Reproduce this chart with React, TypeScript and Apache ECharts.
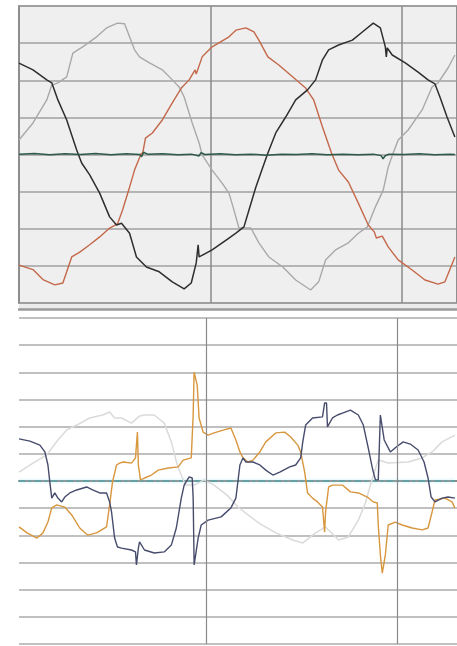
import React, { useEffect, useRef } from "react";
import * as echarts from "echarts";

// time in ms (10 ms per division), values in units (100 per division)
const topTimeMax = 22.86;
const botTimeMax = 22.86;
const bottomDivisionLines = [9.78, 19.72];

const blackTop: [number, number][] = [
  [0, 246], [0.73, 228], [1.45, 201], [1.71, 193], [2.03, 147], [2.49, 93], [3.01, 12], [3.27, -23],
  [3.69, -55], [4.21, -104], [4.73, -168], [5.09, -190], [5.35, -185], [5.77, -212], [6.13, -276],
  [6.65, -303], [7.32, -316], [8.0, -343], [8.62, -362], [8.99, -346], [9.25, -292], [9.35, -243],
  [9.4, -276], [10.08, -257], [10.96, -225], [11.32, -212], [11.74, -195], [12.0, -150], [12.36, -88],
  [12.73, -34], [12.99, 4], [13.4, 58], [13.92, 101], [14.44, 147], [15.06, 174], [15.48, 201],
  [15.84, 255], [16.16, 282], [16.68, 295], [17.4, 308], [17.92, 330], [18.49, 354], [18.86, 341],
  [19.12, 290], [19.17, 263], [19.22, 287], [19.48, 268], [20.16, 247], [20.83, 222], [21.35, 201],
  [21.71, 190], [21.97, 155], [22.34, 101], [22.75, 47],
];

const orangeTop: [number, number][] = [
  [0, -298], [0.73, -310], [1.25, -337], [1.87, -351], [2.29, -346], [2.75, -276], [3.17, -263],
  [3.69, -243], [4.21, -222], [4.73, -198], [5.14, -187], [5.4, -150], [5.77, -88], [6.03, -42],
  [6.39, 4], [6.44, -1], [6.6, 44], [6.96, 58], [7.48, 93], [8.0, 139], [8.47, 179], [8.88, 201],
  [9.19, 228], [9.25, 217], [9.56, 263], [10.08, 290], [10.96, 317], [11.32, 335], [11.84, 341],
  [12.26, 330], [12.52, 308], [12.99, 263], [13.56, 241], [14.29, 209], [14.96, 179], [15.38, 147],
  [15.84, 74], [16.31, 4], [16.68, -42], [17.19, -74], [17.71, -131], [18.23, -190], [18.55, -209],
  [18.65, -225], [18.96, -220], [19.27, -249], [19.79, -284], [20.52, -311], [21.19, -338],
  [21.87, -349], [22.23, -343], [22.75, -276],
];

const grayTop: [number, number][] = [
  [0, 39], [0.73, 85], [1.45, 147], [1.71, 187], [2.03, 193], [2.49, 209], [2.81, 273], [3.32, 290],
  [4.05, 317], [4.57, 341], [5.14, 354], [5.51, 352], [5.77, 317], [6.03, 282], [6.29, 263],
  [6.81, 247], [7.48, 228], [8.0, 201], [8.36, 182], [8.62, 155], [9.04, 85], [9.4, 31], [9.56, -1],
  [10.08, -42], [10.6, -77], [10.96, -104], [11.17, -141], [11.48, -198], [12.1, -198], [12.52, -238],
  [13.04, -276], [13.77, -303], [14.44, -338], [15.22, -365], [15.64, -343], [16.0, -284],
  [16.52, -257], [17.19, -238], [17.71, -212], [18.18, -195], [18.6, -141], [19.01, -96],
  [19.27, -34], [19.53, 4], [19.79, 39], [20.31, 66], [21.04, 120], [21.56, 182], [21.87, 193],
  [22.39, 233], [22.75, 268],
];

const greenTop: [number, number][] = [
  [0, 1], [0.8, 3], [1.6, -1], [2.4, 2], [3.2, 0], [4.0, 3], [4.8, -1], [5.6, 2], [6.3, 0],
  [6.4, -6], [6.5, 6], [6.7, 1], [7.5, 2], [8.3, -1], [9.0, 1], [9.4, -4], [9.5, 5], [9.7, 0],
  [10.5, 2], [11.3, -1], [12.1, 1], [12.9, -2], [13.7, 1], [14.5, 0], [15.3, 2], [16.1, -1],
  [16.9, 1], [17.7, -1], [18.5, 1], [18.9, -3], [19.0, -12], [19.1, -4], [19.3, 1], [20.1, 0],
  [20.9, 2], [21.7, -1], [22.5, 1], [22.75, 0],
];

const navyBottom: [number, number][] = [
  [0, 155], [0.57, 147], [1.09, 132], [1.35, 107], [1.51, 59], [1.61, -4], [1.71, -63], [1.87, -44],
  [2.03, -63], [2.23, -77], [2.39, -59], [2.65, -44], [3.01, -33], [3.53, -22], [3.84, -33],
  [4.21, -44], [4.57, -44], [4.73, -77], [4.83, -114], [4.99, -210], [5.14, -243], [5.35, -247],
  [5.87, -254], [6.08, -261], [6.13, -309], [6.23, -247], [6.29, -224], [6.55, -254], [7.06, -265],
  [7.58, -261], [7.95, -236], [8.21, -173], [8.47, -63], [8.62, -15], [8.88, 15], [9.04, 11],
  [9.09, -63], [9.14, -309], [9.35, -210], [9.51, -162], [9.87, -144], [10.55, -132], [11.06, -99],
  [11.32, -63], [11.53, 59], [11.69, 85], [11.84, 70], [12.21, 70], [12.57, 59], [12.88, 40],
  [13.25, 22], [13.61, 33], [14.13, 52], [14.44, 59], [14.7, 85], [14.81, 144], [14.96, 206],
  [15.32, 232], [15.84, 236], [15.95, 287], [16.05, 287], [16.1, 199], [16.36, 232], [16.62, 243],
  [16.88, 250], [17.3, 261], [17.71, 243], [17.97, 206], [18.23, 121], [18.44, 48], [18.6, 4],
  [18.75, 4], [18.86, 243], [19.06, 151], [19.38, 107], [19.69, 125], [20.05, 144], [20.42, 136],
  [20.83, 114], [21.14, 70], [21.35, 11], [21.51, -59], [21.71, -77], [22.08, -63], [22.39, -59],
  [22.75, -63],
];

const orangeBottom: [number, number][] = [
  [0, -169], [0.42, -191], [0.94, -210], [1.25, -191], [1.51, -151], [1.71, -99], [1.97, -88],
  [2.39, -96], [2.75, -125], [3.17, -173], [3.58, -199], [4.05, -191], [4.57, -169], [4.73, -88],
  [4.88, -4], [5.09, 59], [5.25, 66], [5.45, 70], [5.87, 66], [6.08, 85], [6.18, 180], [6.23, 59],
  [6.34, 4], [6.55, 11], [6.91, 22], [7.27, 40], [7.79, 48], [8.31, 52], [8.57, 77], [8.99, 85],
  [9.09, 243], [9.14, 401], [9.3, 353], [9.4, 232], [9.61, 180], [9.87, 169], [10.18, 177],
  [10.7, 188], [11.06, 195], [11.32, 151], [11.53, 107], [11.69, 85], [11.95, 70], [12.21, 77],
  [12.57, 107], [12.88, 144], [13.4, 177], [13.87, 180], [14.18, 162], [14.55, 132], [14.7, 107],
  [14.91, 33], [15.06, -44], [15.32, -63], [15.58, -77], [15.84, -96], [15.95, -188], [16.0, -114],
  [16.16, -22], [16.36, -15], [16.73, -15], [16.88, -15], [17.3, -40], [17.71, -44], [18.18, -59],
  [18.49, -77], [18.7, -81], [18.75, -162], [18.86, -272], [18.96, -339], [19.12, -272],
  [19.27, -162], [19.64, -151], [20.0, -162], [20.52, -173], [21.04, -180], [21.35, -173],
  [21.56, -114], [21.71, -70], [22.23, -63], [22.6, -77], [22.75, -99],
];

const grayBottom: [number, number][] = [
  [0, 33], [0.73, 66], [1.45, 96], [2.03, 151], [2.49, 188], [3.01, 206], [3.69, 232], [4.36, 243],
  [4.73, 254], [4.99, 232], [5.35, 232], [5.87, 213], [6.29, 239], [6.55, 243], [7.06, 243],
  [7.58, 213], [7.95, 144], [8.26, 59], [8.68, -15], [9.14, -15], [9.66, 4], [10.18, -15],
  [10.86, -52], [11.48, -99], [12.52, -155], [13.4, -191], [14.29, -217], [14.81, -228],
  [15.48, -191], [16.0, -169], [16.68, -217], [17.19, -206], [17.71, -144], [18.08, -81],
  [18.34, -15], [18.75, 77], [19.27, 66], [20.31, 70], [21.04, 85], [21.56, 107], [22.08, 144],
  [22.75, 169],
];

const cyanBottom: [number, number][] = [
  [0, 0], [22.75, 0],
];

export default function App() {
  const ref = useRef<HTMLDivElement>(null);
  useEffect(() => {
    if (!ref.current) return;
    const chart = echarts.init(ref.current, null, { renderer: "svg" });
    const line = (name: string, data: [number, number][], idx: number, color: string, width: number, extra: any = {}) => ({
      name,
      type: "line",
      xAxisIndex: idx,
      yAxisIndex: idx,
      data,
      showSymbol: false,
      symbol: "none",
      silent: true,
      lineStyle: { color, width },
      ...extra,
    });
    chart.setOption({
      animation: false,
      backgroundColor: "#ffffff",
      grid: [
        {
          left: 19, top: 6, right: -2, height: 297,
          show: true, backgroundColor: "#efefef", borderColor: "#9c9c9c", borderWidth: 2,
        },
        { left: 19, top: 318, right: -2, height: 326, show: false },
      ],
      xAxis: [
        {
          gridIndex: 0, type: "value", min: 0, max: topTimeMax, interval: 10,
          axisLine: { show: false }, axisTick: { show: false }, axisLabel: { show: false },
          splitLine: { show: true, lineStyle: { color: "#8a8a8a", width: 1.5 } },
        },
        {
          gridIndex: 1, type: "value", min: 0, max: botTimeMax, interval: 10,
          axisLine: { show: true, lineStyle: { color: "#8a8a8a", width: 2 } },
          axisTick: { show: false }, axisLabel: { show: false }, splitLine: { show: false },
        },
      ],
      yAxis: [
        {
          gridIndex: 0, type: "value", min: -400, max: 400, interval: 100,
          axisLine: { show: false }, axisTick: { show: false }, axisLabel: { show: false },
          splitLine: { show: true, lineStyle: { color: "#a0a0a0", width: 1.6 } },
        },
        {
          gridIndex: 1, type: "value", min: -600, max: 600, interval: 100,
          axisLine: { show: false }, axisTick: { show: false }, axisLabel: { show: false },
          splitLine: { show: true, lineStyle: { color: "#ababab", width: 1.5 } },
        },
      ],
      graphic: [
        { type: "rect", shape: { x: 19, y: 304, width: 440, height: 5 }, style: { fill: "#ececec" }, silent: true },
        { type: "line", shape: { x1: 18, y1: 309.5, x2: 460, y2: 309.5 }, style: { stroke: "#9a9a9a", lineWidth: 2.5 }, silent: true },
      ],
      series: [
        line("grayTop", grayTop, 0, "#a9a9a9", 1.4),
        line("orangeTop", orangeTop, 0, "#c4684a", 1.4),
        line("blackTop", blackTop, 0, "#2e2e2e", 1.5),
        line("greenTop", greenTop, 0, "#2f5a48", 1.5),
        line("cyanGlow", cyanBottom, 1, "rgba(150,230,240,0.18)", 5),
        line("cyanBottom", cyanBottom, 1, "#3aa8ac", 1.2, {
          lineStyle: { color: "#3aa8ac", width: 1.2, type: [6, 4, 2, 4] },
          markLine: {
            silent: true, symbol: "none", label: { show: false },
            lineStyle: { color: "#8a8a8a", width: 1.2, type: "solid" },
            data: bottomDivisionLines.map((v) => ({ xAxis: v })),
          },
        }),
        line("grayBottom", grayBottom, 1, "#dadada", 1.5),
        line("orangeBottom", orangeBottom, 1, "#d8963e", 1.4),
        line("navyBottom", navyBottom, 1, "#474c6c", 1.4),
      ],
    });
    return () => chart.dispose();
  }, []);
  return <div ref={ref} style={{ position: "fixed", left: 0, top: 0, width: 457, height: 646 }} />;
}
